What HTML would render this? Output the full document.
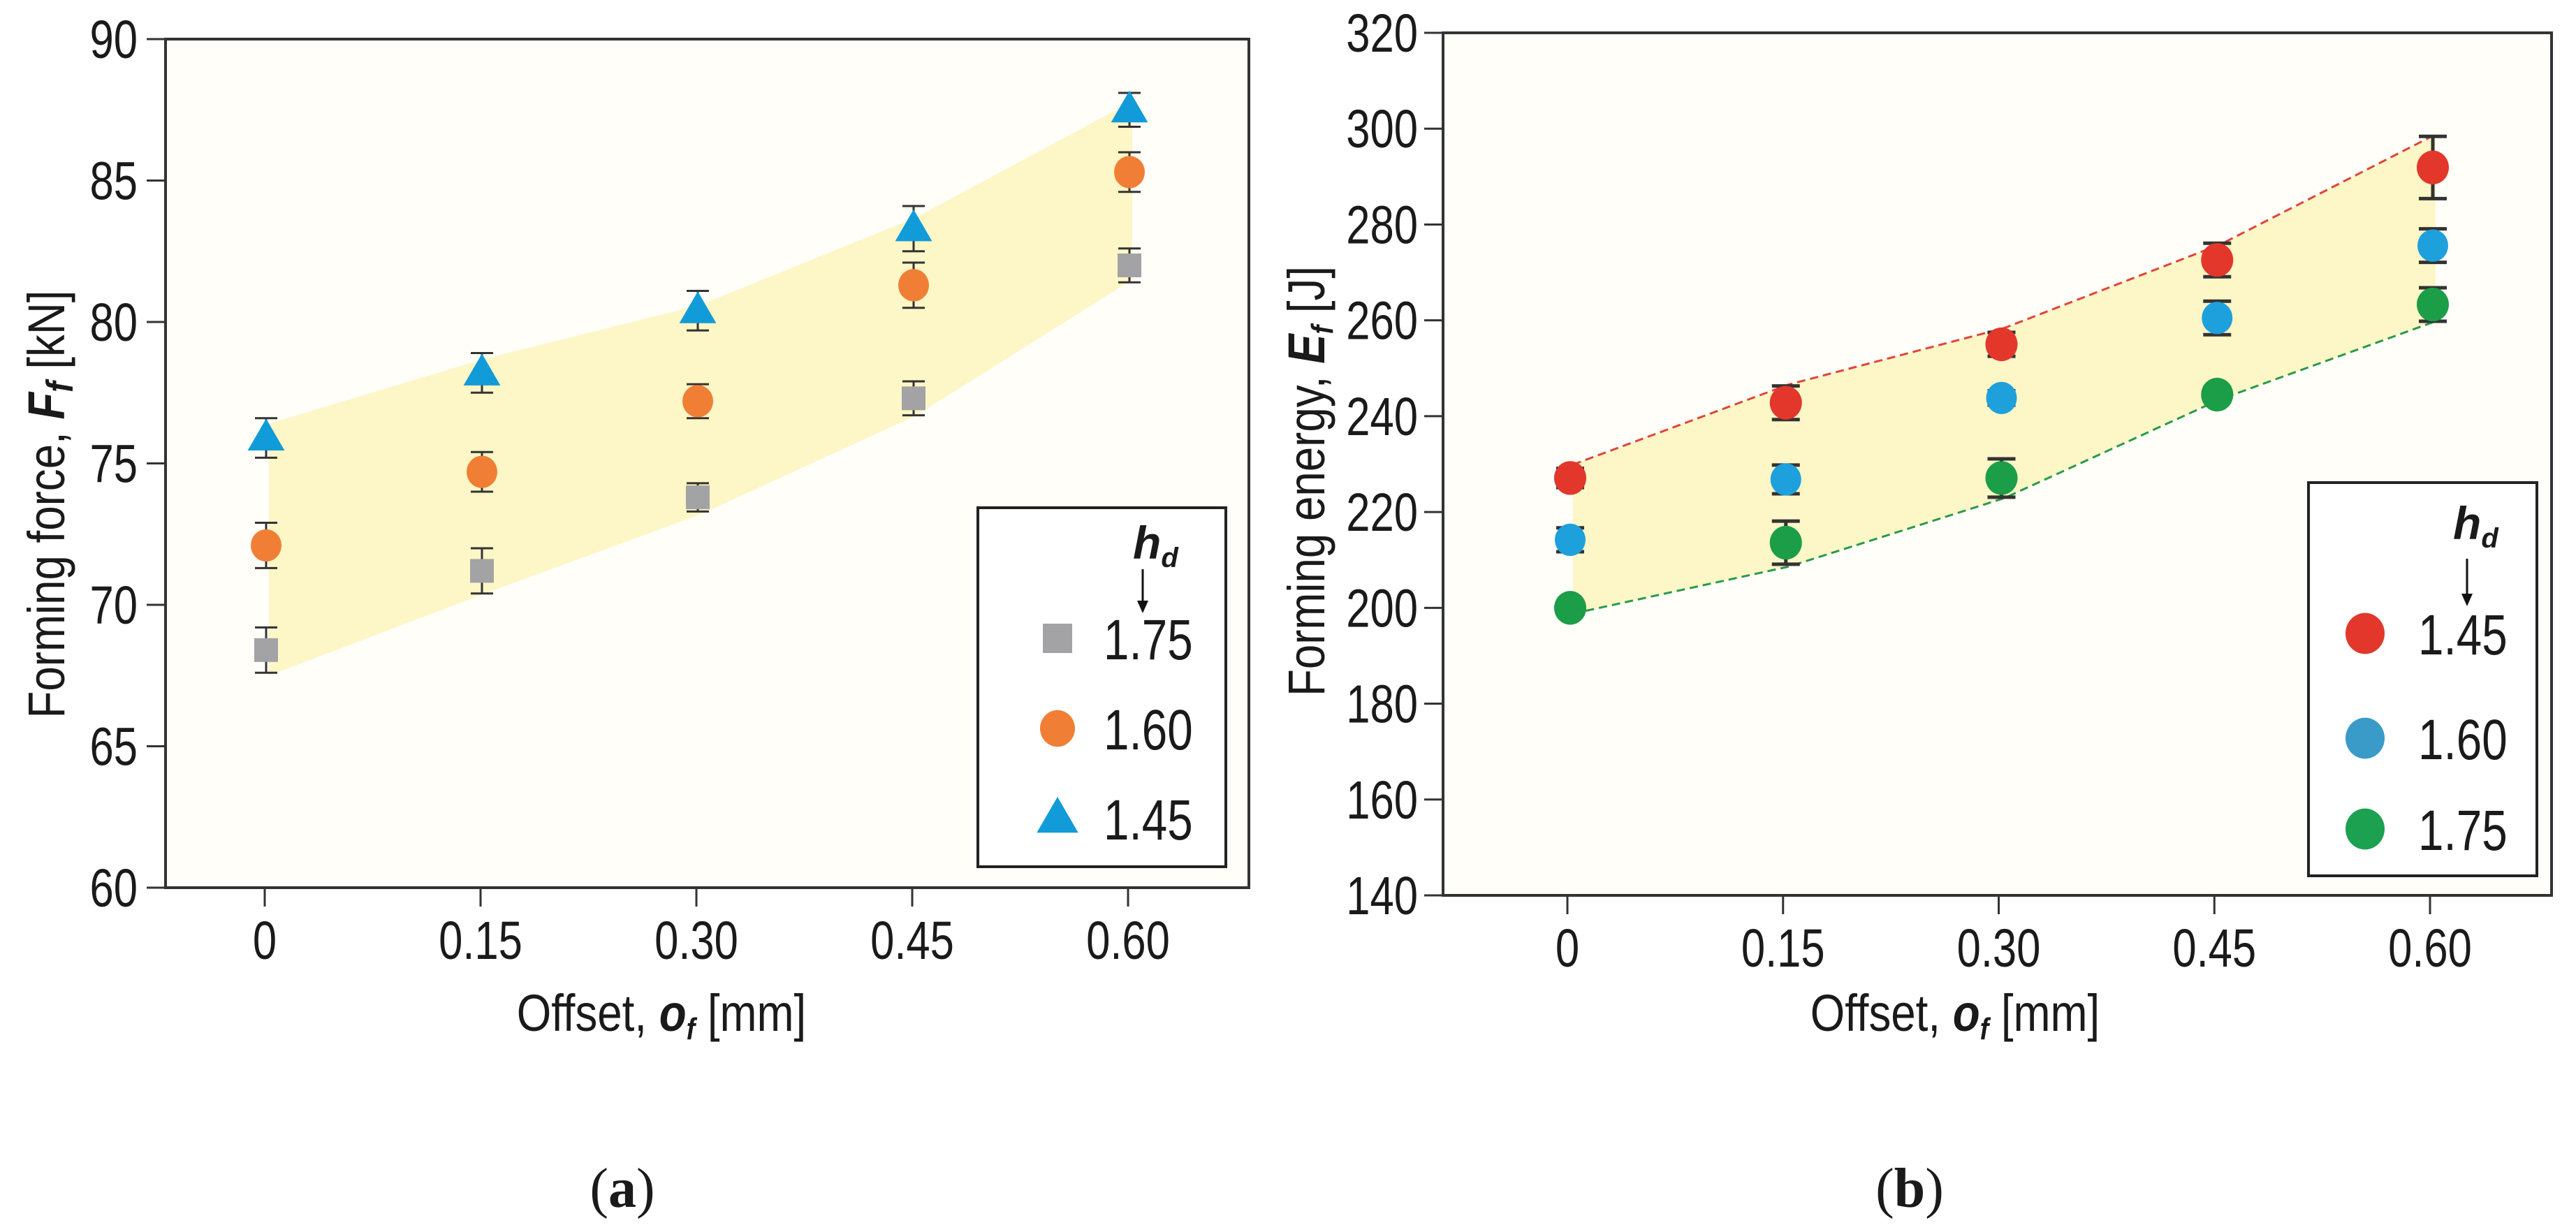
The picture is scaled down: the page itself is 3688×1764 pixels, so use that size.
<!DOCTYPE html>
<html><head><meta charset="utf-8">
<style>
html,body{margin:0;padding:0;background:#fff;}
svg{display:block;}
text{font-family:"Liberation Sans",sans-serif;fill:#1a1a1a;}
</style></head>
<body>
<svg id="fig" width="3688" height="1764" viewBox="0 0 3688 1764" xmlns="http://www.w3.org/2000/svg">
<rect x="0" y="0" width="3688" height="1764" fill="#ffffff"/>
<g id="chartA"></g>
<g id="chartB"></g>
<text x="891" y="1728" font-size="80" text-anchor="middle" style="font-family:'Liberation Serif',serif">(<tspan font-weight="bold">a</tspan>)</text>
<text x="2734" y="1728" font-size="80" text-anchor="middle" style="font-family:'Liberation Serif',serif">(<tspan font-weight="bold">b</tspan>)</text>
</svg>
<script>
// ---- Chart A data ----
const catsA = [0, 0.15, 0.30, 0.45, 0.60];
const xTickLabelsA = ["0", "0.15", "0.30", "0.45", "0.60"];
const yTicksA = [60, 65, 70, 75, 80, 85, 90];
const grey175 = [68.4, 71.2, 73.8, 77.3, 82.0];
const grey175Err = [0.8, 0.8, 0.5, 0.6, 0.6];
const orange160 = [72.1, 74.7, 77.2, 81.3, 85.3];
const orange160Err = [0.8, 0.7, 0.6, 0.8, 0.7];
const blue145 = [75.9, 78.2, 80.4, 83.3, 87.5];
const blue145Err = [0.7, 0.7, 0.7, 0.8, 0.6];
const bandTopA = [76.4, 78.7, 80.6, 83.7, 87.8];
const bandBotA = [67.5, 70.4, 73.2, 76.7, 81.5];

// ---- Chart B data ----
const catsB = [0, 0.15, 0.30, 0.45, 0.60];
const xTickLabelsB = ["0", "0.15", "0.30", "0.45", "0.60"];
const yTicksB = [140, 160, 180, 200, 220, 240, 260, 280, 300, 320];
const red145 = [227.1, 242.8, 255.0, 272.6, 291.9];
const red145Err = [2, 3.5, 2.5, 3.5, 6.5];
const blue160 = [214.2, 226.8, 243.8, 260.5, 275.6];
const blue160Err = [2.5, 3, 1.5, 3.5, 3.5];
const green175 = [200.0, 213.6, 227.1, 244.5, 263.3];
const green175Err = [1, 4.5, 4, 1.5, 3.5];
const upperLineB = [229.9, 246.6, 258.4, 275.8, 298.8];
const lowerLineB = [198.8, 208.6, 222.9, 243.5, 259.8];

const NS = "http://www.w3.org/2000/svg";
function mk(parent, tag, attrs) {
  const e = document.createElementNS(NS, tag);
  for (const k in attrs) e.setAttribute(k, attrs[k]);
  parent.appendChild(e);
  return e;
}
function txt(parent, x, y, s, size, anchor, sx, rot) {
  const t = mk(parent, "text", {
    transform: `translate(${x},${y}) rotate(${rot || 0}) scale(${sx},1)`,
    "font-size": size, "text-anchor": anchor
  });
  t.textContent = s;
  return t;
}

function drawChart(g, cfg) {
  const xS = v => cfg.x0 + (v - cfg.cats[0]) / (cfg.cats[4] - cfg.cats[0]) * (cfg.x4 - cfg.x0);
  const yS = v => cfg.yBot - (v - cfg.yMin) / (cfg.yMax - cfg.yMin) * (cfg.yBot - cfg.yTop);
  // plot background
  const bg = mk(g, "rect", {x: cfg.L, y: cfg.yTop, width: cfg.R - cfg.L, height: cfg.yBot - cfg.yTop, fill: "#fffef8"});
  
  
  // band
  let pts = [];
  cfg.cats.forEach((c, i) => pts.push(`${xS(c) + cfg.bandDx},${yS(cfg.bandTop[i])}`));
  for (let i = cfg.cats.length - 1; i >= 0; i--) pts.push(`${xS(cfg.cats[i]) + cfg.bandDx},${yS(cfg.bandBot[i])}`);
  const band = mk(g, "polygon", {points: pts.join(" "), fill: "#fdf6c6"});
  
  
  if (cfg.dashed) {
    cfg.dashed.forEach(d => {
      const p = cfg.cats.map((c, i) => `${xS(c) + cfg.bandDx},${yS(d.vals[i])}`).join(" ");
      const l = mk(g, "polyline", {points: p, fill: "none", stroke: d.color, "stroke-width": 3, "stroke-dasharray": "12,7"});
      
      
    });
  }
  // frame
  const fr = mk(g, "rect", {x: cfg.L, y: cfg.yTop, width: cfg.R - cfg.L, height: cfg.yBot - cfg.yTop, fill: "none", stroke: "#333", "stroke-width": 4});
  
  
  // y ticks
  cfg.yTicks.forEach(v => {
    const y = yS(v);
    const tk = mk(g, "line", {x1: cfg.L - 27, x2: cfg.L, y1: y, y2: y, stroke: "#333", "stroke-width": 3});
    
    
    const t = txt(g, cfg.L - cfg.labGap, y + 27, String(v), 77, "end", 0.8);
    
    
  });
  // x ticks
  cfg.cats.forEach((c, i) => {
    const x = xS(c);
    const tk = mk(g, "line", {x1: x, x2: x, y1: cfg.yBot, y2: cfg.yBot + 27, stroke: "#333", "stroke-width": 3});
    
    
    const t = txt(g, x, cfg.yBot + 102, cfg.xLabels[i], 77, "middle", 0.8);
    
    
  });
  // series
  cfg.series.forEach(s => {
    cfg.cats.forEach((c, i) => {
      const x = xS(c) + cfg.markDx, y = yS(s.vals[i]);
      const e = s.errs[i];
      const eg = mk(g, "g", {stroke: "#333", "stroke-width": cfg.ebw});
      
      
      mk(eg, "line", {x1: x, x2: x, y1: yS(s.vals[i] + e), y2: yS(s.vals[i] - e)});
      mk(eg, "line", {x1: x - cfg.cap, x2: x + cfg.cap, y1: yS(s.vals[i] + e), y2: yS(s.vals[i] + e)});
      mk(eg, "line", {x1: x - cfg.cap, x2: x + cfg.cap, y1: yS(s.vals[i] - e), y2: yS(s.vals[i] - e)});
      const m = marker(g, s.shape, x, y, s.size, s.color);
      
      
    });
  });
}
function marker(g, shape, x, y, r, color) {
  if (shape === "square") return mk(g, "rect", {x: x - r, y: y - r, width: 2 * r, height: 2 * r, fill: color});
  if (shape === "tri") return mk(g, "polygon", {points: `${x},${y - r * 1.15} ${x - r * 1.1},${y + r * 0.75} ${x + r * 1.1},${y + r * 0.75}`, fill: color});
  return mk(g, "ellipse", {cx: x, cy: y, rx: r, ry: r * 1.05, fill: color});
}

const gA = document.getElementById("chartA");
drawChart(gA, {
  L: 237, R: 1788, yTop: 56, yBot: 1271, x0: 379, x4: 1615,
  yMin: 60, yMax: 90, cats: catsA, xLabels: xTickLabelsA, yTicks: yTicksA, labGap: 40,
  bandTop: bandTopA, bandBot: bandBotA, bandDx: 6, markDx: 2, ebw: 3, cap: 16,
  series: [
    {name: "hd-1.75", vals: grey175, errs: grey175Err, shape: "square", size: 17, color: "#a3a3a5"},
    {name: "hd-1.60", vals: orange160, errs: orange160Err, shape: "circle", size: 22, color: "#f07f35"},
    {name: "hd-1.45", vals: blue145, errs: blue145Err, shape: "tri", size: 24, color: "#119bd8"}
  ]
});
const gB = document.getElementById("chartB");
drawChart(gB, {
  L: 2066, R: 3653, yTop: 47, yBot: 1282, x0: 2244, x4: 3479,
  yMin: 140, yMax: 320, cats: catsB, xLabels: xTickLabelsB, yTicks: yTicksB, labGap: 36,
  bandTop: upperLineB, bandBot: lowerLineB, bandDx: 8, markDx: 4, ebw: 5, cap: 20,
  dashed: [{name: "upper-dashed-line", vals: upperLineB, color: "#e0443a"}, {name: "lower-dashed-line", vals: lowerLineB, color: "#2a9a4a"}],
  series: [
    {name: "hd-1.45", vals: red145, errs: red145Err, shape: "circle", size: 23, color: "#e2372a"},
    {name: "hd-1.60", vals: blue160, errs: blue160Err, shape: "circle", size: 22, color: "#1ea0dc"},
    {name: "hd-1.75", vals: green175, errs: green175Err, shape: "circle", size: 23, color: "#1c9d48"}
  ]
});

// axis titles
function axisTitle(g, x, y, rot, parts, name) {
  const t = mk(g, "text", {transform: `translate(${x},${y}) rotate(${rot}) scale(0.86,1)`, "font-size": 74, "text-anchor": "middle"});
  
  
  parts.forEach(p => {
    const s = mk(t, "tspan", p.a || {});
    s.textContent = p.t;
  });
}
axisTitle(gA, 92, 722, -90, [{t: "Forming force, "}, {t: "F", a: {"font-weight": "bold", "font-style": "italic"}}, {t: "f", a: {"font-weight": "bold", "font-style": "italic", "font-size": 54, dy: 12}}, {t: " [kN]", a: {dy: -12}}], "y-axis-title-force");
axisTitle(gA, 947, 1476, 0, [{t: "Offset, "}, {t: "o", a: {"font-weight": "bold", "font-style": "italic"}}, {t: "f", a: {"font-weight": "bold", "font-style": "italic", "font-size": 44, dy: 12}}, {t: " [mm]", a: {dy: -12}}], "x-axis-title-a");
axisTitle(gB, 1896, 689, -90, [{t: "Forming energy, "}, {t: "E", a: {"font-weight": "bold", "font-style": "italic"}}, {t: "f", a: {"font-weight": "bold", "font-style": "italic", "font-size": 44, dy: 12}}, {t: " [J]", a: {dy: -12}}], "y-axis-title-energy");
axisTitle(gB, 2799, 1476, 0, [{t: "Offset, "}, {t: "o", a: {"font-weight": "bold", "font-style": "italic"}}, {t: "f", a: {"font-weight": "bold", "font-style": "italic", "font-size": 44, dy: 12}}, {t: " [mm]", a: {dy: -12}}], "x-axis-title-b");

// legends
function legend(g, box, hd, arrow, items, name) {
  const lg = mk(g, "g", {});
  
  
  mk(lg, "rect", {x: box[0], y: box[1], width: box[2], height: box[3], fill: "#fff", stroke: "#222", "stroke-width": 4});
  const h = mk(lg, "text", {x: hd[0], y: hd[1], "font-size": 66, "font-weight": "bold", "font-style": "italic"});
  
  
  h.textContent = "h";
  const sub = mk(h, "tspan", {"font-size": 40, dy: 12});
  sub.textContent = "d";
  mk(lg, "line", {x1: arrow[0], x2: arrow[0], y1: arrow[1], y2: arrow[2] - 14, stroke: "#111", "stroke-width": 3});
  mk(lg, "polygon", {points: `${arrow[0] - 8},${arrow[2] - 18} ${arrow[0] + 8},${arrow[2] - 18} ${arrow[0]},${arrow[2]}`, fill: "#111"});
  items.forEach(it => {
    const m = marker(lg, it.shape, it.mx, it.y, it.r, it.color);
    
    
    const t = txt(lg, it.tx, it.y + 30, it.label, 82, "start", 0.8);
    
    
  });
}
legend(gA, [1400, 727, 355, 514], [1622, 800], [1636, 815, 878], [
  {shape: "square", mx: 1514, y: 914, r: 21, color: "#a3a3a5", tx: 1580, label: "1.75"},
  {shape: "circle", mx: 1514, y: 1043, r: 25, color: "#f07f35", tx: 1580, label: "1.60"},
  {shape: "tri", mx: 1514, y: 1172, r: 27, color: "#119bd8", tx: 1580, label: "1.45"}
], "legend-a");
legend(gB, [3305, 691, 327, 563], [3512, 772], [3532, 800, 868], [
  {shape: "circle", mx: 3386, y: 907, r: 28, color: "#e2372a", tx: 3462, label: "1.45"},
  {shape: "circle", mx: 3386, y: 1057, r: 28, color: "#3a9bc9", tx: 3462, label: "1.60"},
  {shape: "circle", mx: 3386, y: 1187, r: 28, color: "#1ca150", tx: 3462, label: "1.75"}
], "legend-b");
</script>
</body></html>
